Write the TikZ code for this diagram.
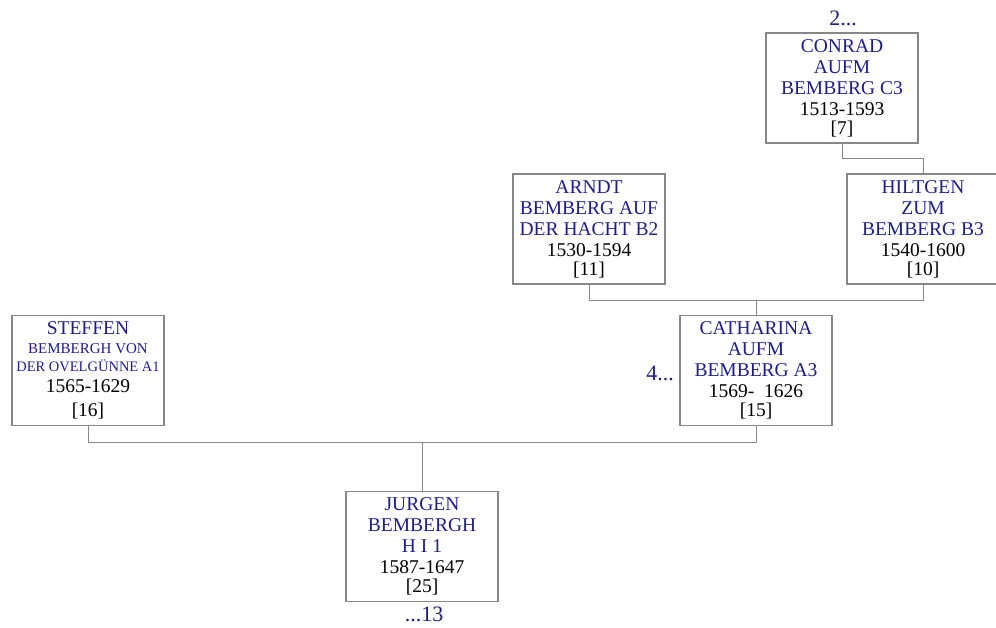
\documentclass[tikz,border=0pt]{standalone}
\usepackage{fontspec}
\setmainfont{Liberation Serif}
\usetikzlibrary{calc}
\definecolor{nameblue}{RGB}{28,28,150}
\definecolor{linegray}{RGB}{135,135,135}
\tikzset{
  person/.style={draw=linegray, line width=1.1pt, minimum width=152pt, minimum height=110pt,
    inner sep=0pt, align=center, font=\fontsize{19.5}{21}\selectfont},
  link/.style={draw=linegray, line width=1pt},
  more/.style={text=nameblue, font=\fontsize{22}{24}\selectfont, inner sep=0pt}
}
\newcommand{\nm}[1]{\textcolor{nameblue}{#1}}
\begin{document}
\begin{tikzpicture}[x=1pt,y=-1pt]
\useasboundingbox[fill=white] (0,0) rectangle (996,628);
\node[person] (conrad) at (842,88) {\nm{CONRAD}\\\nm{AUFM}\\\nm{BEMBERG C3}\\1513-1593\\[-2pt]{[7]}};
\node[person] (hiltgen) at (923,229) {\nm{HILTGEN}\\\nm{ZUM}\\\nm{BEMBERG B3}\\1540-1600\\[-2pt]{[10]}};
\node[person] (arndt) at (589,229) {\nm{ARNDT}\\\nm{BEMBERG AUF}\\\nm{DER HACHT B2}\\1530-1594\\[-2pt]{[11]}};
\node[person] (catharina) at (756,370.5) {\nm{CATHARINA}\\\nm{AUFM}\\\nm{BEMBERG A3}\\1569-~~1626\\[-2pt]{[15]}};
\node[person] (steffen) at (88,370.5) {\nm{STEFFEN}\\[-2pt]\nm{\fontsize{15}{16}\selectfont BEMBERGH VON}\\[-3pt]\nm{\fontsize{14.5}{16}\selectfont DER OVELGÜNNE A1}\\1565-1629\\[3pt]{[16]}};
\node[person] (jurgen) at (422,546.5) {\nm{JURGEN}\\\nm{BEMBERGH}\\\nm{H I 1}\\1587-1647\\[-2pt]{[25]}};
\node[more] (c2) at (843,18) {2...};
\node[more] (c4) at (660,373) {4...};
\node[more] (c13) at (424,614) {...13};
\draw[link] (conrad.south) -- ++(0,15) -| (hiltgen.north);
\draw[link] (arndt.south) -- ++(0,16) -| (hiltgen.south);
\coordinate (m1) at ($(arndt.south)!.5!(hiltgen.south)+(0,16)$);
\draw[link] (m1) -- (catharina.north);
\draw[link] (steffen.south) -- ++(0,16) -| (catharina.south);
\coordinate (m2) at ($(steffen.south)!.5!(catharina.south)+(0,16)$);
\draw[link] (m2) -- (jurgen.north);
\end{tikzpicture}
\end{document}
